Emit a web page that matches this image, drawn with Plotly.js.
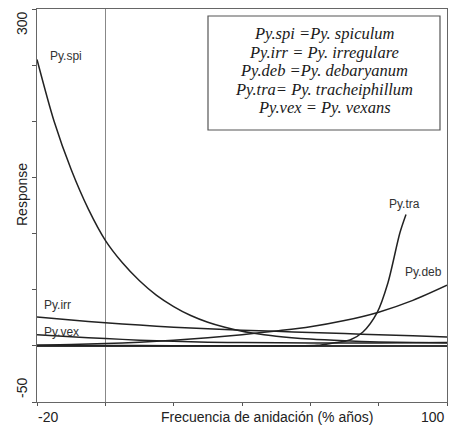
<!DOCTYPE html>
<html>
<head>
<meta charset="utf-8">
<script src="https://cdn.plot.ly/plotly-3.0.1.min.js"></script>
<style>html,body{margin:0;padding:0;background:#fff;}#chart{width:454px;height:427px;}</style>
</head>
<body>
<div id="chart"></div>
<script>
// Data
const spiX = [-20, -15, -10, -5, 0, 5, 10, 15, 20, 25, 30, 35, 40, 45, 50, 60, 70, 80, 90, 100];
const spiY = [255, 200, 157, 122, 94, 74, 58, 45, 35, 27, 21, 16.5, 13, 10.5, 8.5, 6, 4.5, 3.5, 3, 2.5];

const irrX = [-20, -10, 0, 10, 20, 30, 40, 50, 60, 70, 80, 90, 100];
const irrY = [25.7, 23, 20.6, 18.5, 16.6, 15.2, 14, 12.9, 11.9, 10.9, 9.9, 8.9, 7.9];

const vexX = [-20, -10, 0, 10, 20, 30, 40, 60, 80, 100];
const vexY = [10, 8.1, 6.5, 5.1, 4, 3.3, 2.9, 2.6, 2.6, 3];

const debX = [-20, -10, 0, 10, 20, 30, 40, 50, 60, 70, 80, 90, 100];
const debY = [0.5, 1.2, 2, 3.2, 5, 7.3, 10, 13.3, 17, 22.5, 30, 40.5, 54];

const traX = [-20, 0, 20, 40, 55, 62, 66.6, 71.6, 75.4, 79.5, 82.7, 86.2, 88];
const traY = [0.5, 0.3, 0.2, 0, 0, 0.5, 2.5, 5.2, 12.3, 29.3, 56, 100.5, 117];

const xTicks = [-20, 0, 20, 40, 60, 80, 100];
const yTicks = [-50, 0, 50, 100, 150, 200, 250, 300];

const legendLines = [
  "Py.spi =Py. spiculum",
  "Py.irr = Py. irregulare",
  "Py.deb =Py. debaryanum",
  "Py.tra= Py. tracheiphillum",
  "Py.vex = Py. vexans"
];
const curveLabels = ["Py.spi", "Py.irr", "Py.vex", "Py.tra", "Py.deb"];

const lineStyle = {color: '#222', width: 1.5, shape: 'spline', smoothing: 0.8};
function tr(x, y) { return {x: x, y: y, type: 'scatter', mode: 'lines', line: lineStyle, hoverinfo: 'skip'}; }

const data = [tr(spiX, spiY), tr(irrX, irrY), tr(vexX, vexY), tr(debX, debY), tr(traX, traY)];

const px = p => (p - 37) / 410;
const py = p => (402 - p) / 393;

const ann = [];
const lab = {family: 'Liberation Sans, Arial, sans-serif', size: 14, color: '#222'};
ann.push({xref:'paper', yref:'paper', x: px(22), y: py(23), text: '300', textangle: -90, showarrow:false, font: lab, xanchor:'center', yanchor:'middle'});
ann.push({xref:'paper', yref:'paper', x: px(22), y: py(195), text: 'Response', textangle: -90, showarrow:false, font: lab, xanchor:'center', yanchor:'middle'});
ann.push({xref:'paper', yref:'paper', x: px(22), y: py(388), text: '-50', textangle: -90, showarrow:false, font: lab, xanchor:'center', yanchor:'middle'});
ann.push({xref:'paper', yref:'paper', x: px(36), y: py(417), text: '-20', showarrow:false, font: lab, xanchor:'left', yanchor:'middle'});
ann.push({xref:'paper', yref:'paper', x: px(447), y: py(417), text: '100', showarrow:false, font: lab, xanchor:'right', yanchor:'middle'});
ann.push({xref:'paper', yref:'paper', x: px(267), y: py(417), text: 'Frecuencia de anidación (% años)', showarrow:false, font: lab, xanchor:'center', yanchor:'middle'});

const labPos = [[66, 56], [57, 305], [61, 332], [404, 204], [423, 272]];
const small = {family: 'Liberation Sans, Arial, sans-serif', size: 12, color: '#333'};
curveLabels.forEach((t, i) => ann.push({xref:'paper', yref:'paper', x: px(labPos[i][0]), y: py(labPos[i][1]), text: t, showarrow:false, font: small, xanchor:'center', yanchor:'middle'}));

const legY = [33, 52, 71, 89, 108];
const legFont = {family: 'Liberation Serif, Times New Roman, serif', size: 16.5, color: '#1a1a1a'};
legendLines.forEach((t, i) => ann.push({xref:'paper', yref:'paper', x: px(324), y: py(legY[i]), text: '<i>' + t + '</i>', showarrow:false, font: legFont, xanchor:'center', yanchor:'middle'}));

const layout = {
  width: 454, height: 427,
  margin: {l: 37, r: 7, t: 9, b: 25, pad: 0},
  paper_bgcolor: '#fff', plot_bgcolor: '#fff',
  showlegend: false,
  xaxis: {range: [-20, 100], tickvals: xTicks, showticklabels: false, ticks: 'outside', ticklen: 3, tickcolor: '#555',
          showgrid: false, zeroline: true, zerolinecolor: '#888', zerolinewidth: 1,
          showline: true, linecolor: '#666', linewidth: 1, mirror: true},
  yaxis: {range: [-50, 300], tickvals: yTicks, showticklabels: false, ticks: 'outside', ticklen: 4, tickcolor: '#555',
          showgrid: false, zeroline: true, zerolinecolor: '#333', zerolinewidth: 1.5,
          showline: true, linecolor: '#666', linewidth: 1, mirror: true},
  shapes: [{type: 'rect', xref: 'paper', yref: 'paper', x0: px(208), x1: px(440), y0: py(130), y1: py(16),
            line: {color: '#555', width: 1.2}, fillcolor: 'rgba(0,0,0,0)'}],
  annotations: ann
};

Plotly.newPlot('chart', data, layout, {staticPlot: true, displayModeBar: false});
</script>
</body>
</html>
